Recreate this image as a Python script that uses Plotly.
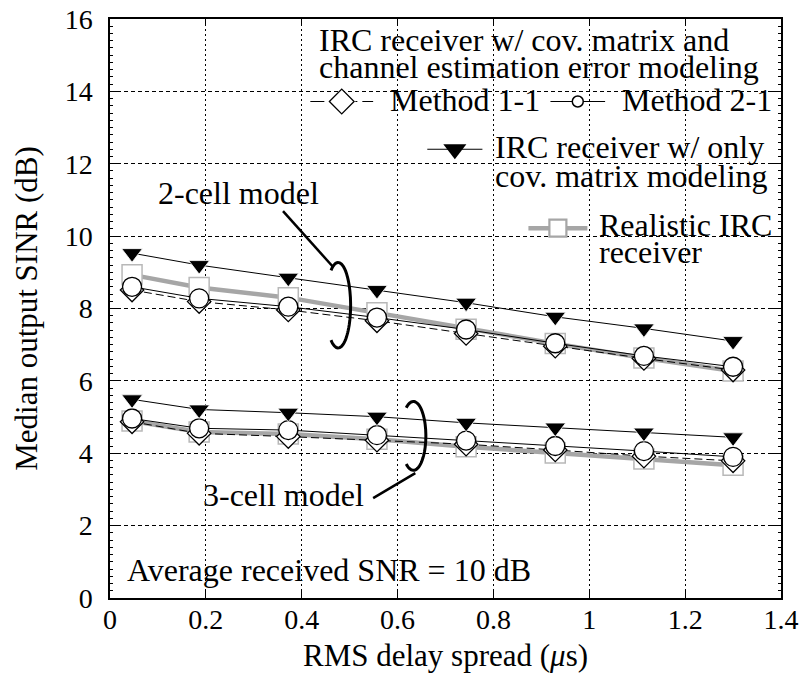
import numpy as np
import plotly.graph_objects as go

# ---------------- data ----------------
delay_spread = [0.046, 0.186, 0.372, 0.557, 0.743, 0.929, 1.114, 1.300]

# 2-cell model
irc_only_2 = [9.53, 9.20, 8.85, 8.51, 8.16, 7.77, 7.45, 7.10]
realistic_2 = [8.93, 8.58, 8.30, 7.88, 7.43, 7.03, 6.63, 6.27]
method21_2 = [8.60, 8.28, 8.05, 7.75, 7.42, 7.04, 6.69, 6.39]
method11_2 = [8.51, 8.19, 7.96, 7.66, 7.31, 6.96, 6.62, 6.30]

# 3-cell model
irc_only_3 = [5.49, 5.21, 5.12, 5.01, 4.84, 4.71, 4.57, 4.44]
realistic_3 = [4.89, 4.59, 4.53, 4.39, 4.18, 4.01, 3.84, 3.67]
method21_3 = [4.96, 4.69, 4.64, 4.50, 4.35, 4.20, 4.06, 3.90]
method11_3 = [4.87, 4.55, 4.46, 4.36, 4.25, 4.09, 3.92, 3.79]

x_ticks = [0, 0.2, 0.4, 0.6, 0.8, 1, 1.2, 1.4]
x_ticklabels = ["0", "0.2", "0.4", "0.6", "0.8", "1", "1.2", "1.4"]
y_ticks = [0, 2, 4, 6, 8, 10, 12, 14, 16]

FONT = "Liberation Serif"
GRAY_LINE = "#a6a6a6"
GRAY_MK = "#b8b8b8"

fig = go.Figure()

def realistic(y):
    fig.add_trace(go.Scatter(
        x=delay_spread, y=y, mode="lines+markers",
        line=dict(color=GRAY_LINE, width=4.5),
        marker=dict(symbol="square", size=20, color="white",
                    line=dict(color=GRAY_MK, width=1.5)),
        showlegend=False, hoverinfo="skip"))

def method11(y):
    fig.add_trace(go.Scatter(
        x=delay_spread, y=y, mode="lines+markers",
        line=dict(color="black", width=1, dash="8px,4px"),
        marker=dict(symbol="diamond", size=18, color="white",
                    line=dict(color="black", width=1.3)),
        showlegend=False, hoverinfo="skip"))

def method21(y):
    fig.add_trace(go.Scatter(
        x=delay_spread, y=y, mode="lines+markers",
        line=dict(color="black", width=1),
        marker=dict(symbol="circle", size=19, color="white",
                    line=dict(color="black", width=1.3)),
        showlegend=False, hoverinfo="skip"))

def irc_only(y):
    fig.add_trace(go.Scatter(
        x=delay_spread, y=y, mode="lines+markers",
        line=dict(color="black", width=1),
        marker=dict(symbol="triangle-down", size=18, color="black",
                    line=dict(color="white", width=0.8)),
        showlegend=False, hoverinfo="skip"))

for r, m1, m2, irc in [(realistic_2, method11_2, method21_2, irc_only_2),
                       (realistic_3, method11_3, method21_3, irc_only_3)]:
    realistic(r)
    method11(m1)
    method21(m2)
    irc_only(irc)

# ---------------- custom legend glyphs ----------------
def glyph(x0, x1, y, line, marker):
    fig.add_trace(go.Scatter(x=[x0, x1], y=[y, y], mode="lines", line=line,
                             showlegend=False, hoverinfo="skip"))
    fig.add_trace(go.Scatter(x=[(x0 + x1) / 2], y=[y], mode="markers", marker=marker,
                             showlegend=False, hoverinfo="skip"))

glyph(0.418, 0.549, 13.72, dict(color="black", width=1.2, dash="14px,5px,2px,5px"),
      dict(symbol="diamond", size=19, color="white", line=dict(color="black", width=1.3)))
glyph(0.919, 1.033, 13.72, dict(color="black", width=1.2),
      dict(symbol="circle", size=11, color="white", line=dict(color="black", width=1.5)))
glyph(0.662, 0.777, 12.40, dict(color="black", width=1.2),
      dict(symbol="triangle-down", size=20, color="black", line=dict(color="black", width=0)))
glyph(0.873, 0.996, 10.22, dict(color=GRAY_LINE, width=4.5),
      dict(symbol="square", size=17, color="white", line=dict(color=GRAY_LINE, width=2.2)))

# ---------------- text annotations ----------------
TXT = 32
def label(x, y, text, anchor="left"):
    fig.add_annotation(x=x, y=y, xref="x", yref="y", text=text, showarrow=False,
                       xanchor=anchor, yanchor="middle",
                       font=dict(family=FONT, size=TXT, color="black"))

label(0.432, 15.41, "IRC receiver w/ cov. matrix and")
label(0.432, 14.66, "channel estimation error modeling")
label(0.580, 13.76, "Method 1-1")
label(1.065, 13.76, "Method 2-1")
label(0.800, 12.46, "IRC receiver w/ only")
label(0.800, 11.66, "cov. matrix modeling")
label(1.017, 10.30, "Realistic IRC")
label(1.017, 9.56, "receiver")
label(0.269, 11.18, "2-cell model", anchor="center")
label(0.362, 2.85, "3-cell model", anchor="center")
label(0.031, 0.77, "Average received SNR = 10 dB")

# ---------------- braces and leaders ----------------
def arc_path(cx, cy, rx, ry, t0=125, t1=-125, n=60):
    t = np.radians(np.linspace(t0, t1, n))
    xs = cx + rx * np.cos(t)
    ys = cy + ry * np.sin(t)
    return "M " + " L ".join(f"{a:.4f},{b:.4f}" for a, b in zip(xs, ys))

fig.add_shape(type="path", path=arc_path(0.476, 8.09, 0.026, 1.18),
              xref="x", yref="y", line=dict(color="black", width=3))
fig.add_shape(type="path", path=arc_path(0.633, 4.48, 0.026, 0.95),
              xref="x", yref="y", line=dict(color="black", width=3))
fig.add_shape(type="line", x0=0.361, y0=10.69, x1=0.466, y1=9.14,
              xref="x", yref="y", line=dict(color="black", width=2.5))
fig.add_shape(type="line", x0=0.549, y0=2.76, x1=0.637, y1=3.45,
              xref="x", yref="y", line=dict(color="black", width=2.5))

# ---------------- axes ----------------
axis_common = dict(showline=True, linecolor="black", linewidth=1.5, mirror="allticks",
                   ticks="inside", tickcolor="black", tickwidth=1,
                   tickfont=dict(family=FONT, size=28, color="black"),
                   gridcolor="black", gridwidth=1, zeroline=False)

fig.update_xaxes(range=[0, 1.4], tickvals=x_ticks, ticktext=x_ticklabels,
                 ticklen=7, griddash="2px,3px", ticklabelstandoff=-4,
                 title=dict(text="RMS delay spread (<i>μ</i>s)",
                            font=dict(family=FONT, size=31, color="black"), standoff=10),
                 **axis_common)
fig.update_yaxes(range=[0, 16], tickvals=y_ticks, ticklen=9, griddash="4px,3px",
                 ticklabelstandoff=10,
                 minor=dict(dtick=0.2, ticks="inside", ticklen=3, tickcolor="black",
                            showgrid=False),
                 title=dict(text="Median output SINR (dB)",
                            font=dict(family=FONT, size=31, color="black"), standoff=18),
                 **axis_common)

fig.update_layout(width=800, height=683,
                  margin=dict(l=110, r=19, t=19, b=85, autoexpand=False),
                  plot_bgcolor="white", paper_bgcolor="white",
                  font=dict(family=FONT, color="black"), showlegend=False)

fig.write_html("out.html",
               config={"displayModeBar": False},
               post_script="document.body.style.margin='0';"
                           "document.body.style.overflow='hidden';")
